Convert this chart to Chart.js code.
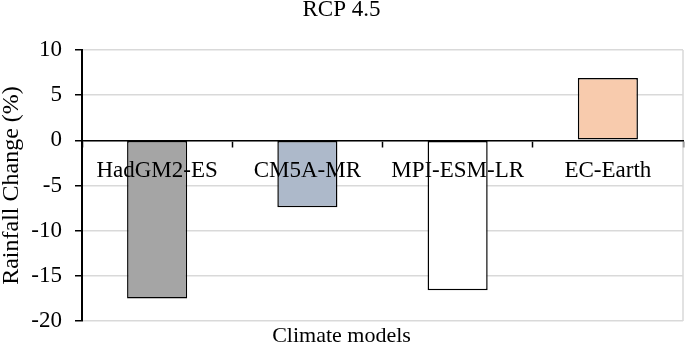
<!DOCTYPE html>
<html>
<head>
<meta charset="utf-8">
<script src="https://cdn.jsdelivr.net/npm/chart.js@4"></script>
<style>
  html, body { margin: 0; padding: 0; background: #fff; }
  #wrap { width: 685px; height: 348px; }
</style>
</head>
<body>
<div id="wrap"><canvas id="myChart"></canvas></div>
<script>
const models = ["HadGM2-ES", "CM5A-MR", "MPI-ESM-LR", "EC-Earth"];
const rainfallChange = [-17.5, -7.4, -16.6, 6.9];
const barColors = ['#a5a5a5', '#adb9ca', '#ffffff', '#f8cbad'];

const serif = "'Liberation Serif', 'Times New Roman', serif";

// grey line on the right edge of the plot
const rightBorder = {
    id: 'rightBorder',
    beforeDatasetsDraw(chart) {
        const a = chart.chartArea;
        const ctx = chart.ctx;
        ctx.save();
        ctx.strokeStyle = '#d9d9d9';
        ctx.lineWidth = 1.5;
        ctx.beginPath();
        ctx.moveTo(a.right, a.top);
        ctx.lineTo(a.right, a.bottom);
        ctx.stroke();
        ctx.restore();
    }
};

const config = {
    type: 'bar',
    data: {
        labels: models,
        datasets: [{
            data: rainfallChange,
            backgroundColor: barColors,
            borderColor: '#000',
            borderWidth: 1.5,
            borderSkipped: false,
            barPercentage: 0.4,
            categoryPercentage: 1
        }]
    },
    options: {
        responsive: true,
        maintainAspectRatio: false,
        animation: false,
        layout: { padding: { left: 0, right: 2, top: -2, bottom: 0 } },
        plugins: {
            legend: { display: false },
            tooltip: { enabled: false },
            title: {
                display: true,
                text: 'RCP 4.5',
                color: '#000',
                font: { family: serif, size: 23, weight: 'normal', lineHeight: 1 },
                padding: { top: 0, bottom: 29 }
            },
            subtitle: {
                display: true,
                position: 'bottom',
                text: 'Climate models',
                color: '#000',
                font: { family: serif, size: 22, weight: 'normal', lineHeight: 1 },
                padding: { top: 4, bottom: 1 }
            }
        },
        scales: {
            x: {
                position: { y: 0 },
                grid: { display: true, drawOnChartArea: false, offset: true, tickLength: 6, tickColor: '#000', tickWidth: 1.5 },
                border: { color: '#000', width: 1.5, z: 1 },
                ticks: { color: '#000', font: { family: serif, size: 23 }, padding: 11, maxRotation: 0, z: 1 }
            },
            y: {
                min: -20,
                max: 10,
                afterFit(scale) { scale.width = 82; },
                ticks: { stepSize: 5, color: '#000', font: { family: serif, size: 23 }, padding: 13 },
                grid: { color: '#d9d9d9', lineWidth: 1.5, tickColor: '#000', tickLength: 7, tickWidth: 1.5 },
                border: { color: '#000', width: 2 },
                title: {
                    display: true,
                    text: 'Rainfall Change (%)',
                    color: '#000',
                    font: { family: serif, size: 24, lineHeight: 1 },
                    padding: { top: 0, bottom: 0 }
                }
            }
        }
    },
    plugins: [rightBorder]
};

new Chart(document.getElementById('myChart'), config);
</script>
</body>
</html>
